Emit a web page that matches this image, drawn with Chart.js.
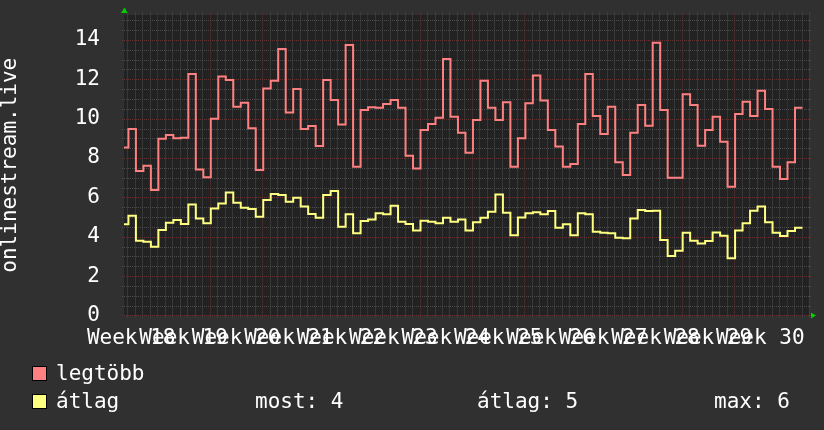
<!DOCTYPE html>
<html><head><meta charset="utf-8">
<script src="https://cdn.jsdelivr.net/npm/chart.js@4/dist/chart.umd.min.js"></script>
<style>
html,body{margin:0;padding:0;background:#303030;}
#wrap{position:relative;width:824px;height:430px;overflow:hidden;background:#303030;}
canvas{position:absolute;left:0;top:0;}
.lg{position:absolute;font-family:'DejaVu Sans Mono',monospace;font-size:21px;line-height:21px;color:#fff;white-space:pre;}
.sq{position:absolute;width:13px;height:13px;border:1px solid #000;}
</style></head><body>
<div id="wrap"><canvas id="c" width="824" height="430"></canvas></div>
<script>
// ---- data ----
const weekNumbers = [18,19,20,21,22,23,24,25,26,27,28,29,30];
const firstDay = -5; // day index of first value (day 0 = Monday of week 18)
const legtobb = [8.53,9.47,7.34,7.61,6.37,
 8.98,9.17,9.0,9.03,12.27,7.42,7.02,
 10.0,12.14,11.97,10.61,10.81,9.51,7.39,
 11.54,11.93,13.54,10.32,11.51,9.47,9.63,
 8.61,11.97,10.95,9.71,13.75,7.56,10.44,
 10.58,10.56,10.75,10.95,10.56,8.12,7.47,
 9.42,9.73,10.05,13.03,10.10,9.29,8.27,
 9.93,11.93,10.56,9.93,10.83,7.56,9.0,
 10.78,12.19,10.92,9.42,8.58,7.56,7.69,
 9.73,12.27,10.14,9.22,10.61,7.78,7.14,
 9.29,10.69,9.64,13.86,10.44,7.0,7.0,
 11.24,10.69,8.63,9.42,10.10,8.83,6.54,
 10.24,10.86,10.14,11.42,10.49,7.56,6.93,
 7.78,10.56];
const atlag = [4.63,5.07,3.80,3.75,3.49,
 4.34,4.71,4.85,4.64,5.64,4.92,4.68,
 5.44,5.69,6.25,5.73,5.47,5.41,5.02,
 5.86,6.17,6.12,5.78,5.98,5.53,5.15,
 4.97,6.12,6.32,4.51,5.14,4.17,4.80,
 4.88,5.19,5.14,5.58,4.76,4.64,4.31,
 4.81,4.76,4.68,4.97,4.76,4.88,4.31,
 4.73,4.97,5.27,6.15,5.22,4.08,4.98,
 5.19,5.24,5.14,5.31,4.46,4.63,4.08,
 5.19,5.14,4.25,4.20,4.17,3.95,3.92,
 4.93,5.36,5.31,5.32,3.83,3.02,3.29,
 4.20,3.80,3.66,3.78,4.22,4.05,2.90,
 4.31,4.68,5.32,5.53,4.73,4.20,4.03,
 4.29,4.46];
const yTicks = [0,2,4,6,8,10,12,14];
const seriesNames = ['legtöbb','átlag'];
const statNames = ['most','átlag','max'];
const statValues = [4,5,6];
const axisTitle = 'onlinestream.live';

// ---- styling ----
const RED = '#ff8080', YEL = '#ffff80';
const PLOT_BG = '#222222', MINOR = '#4c4c4c', MAJOR = '#663232', ARROW = '#00d000';
const FONT = "'DejaVu Sans Mono', monospace";
const stepShift = 0.13;

function toPoints(arr){
  // value i spans day (firstDay+i) .. (firstDay+i+1); stepped 'before' draws
  // each segment at the previous point's value
  const pts = arr.map((v,i)=>({x: firstDay + i + stepShift, y: v}));
  pts.push({x: firstDay + arr.length + stepShift, y: arr[arr.length-1]});
  return pts;
}

const rrdPlugin = {
  id: 'rrd',
  beforeDraw(chart){
    const {ctx, chartArea:a} = chart;
    ctx.save();
    ctx.fillStyle = PLOT_BG;
    ctx.fillRect(a.left, a.top, a.right-a.left, a.bottom-a.top);
    ctx.restore();
  },
  beforeDatasetsDraw(chart){
    const {ctx, chartArea:a, scales:{x,y}} = chart;
    ctx.save();
    ctx.lineWidth = 1;
    ctx.setLineDash([1,1]);
    const draw = (major)=>{
      ctx.strokeStyle = major ? MAJOR : MINOR;
      ctx.beginPath();
      for (let v = 0; v <= y.max + 1e-9; v += 0.5){
        const isMajor = Math.abs(v % 2) < 1e-9;
        if (isMajor !== major) continue;
        const py = Math.round(y.getPixelForValue(v)) + 0.5;
        ctx.moveTo(a.left-2, py); ctx.lineTo(a.right+2, py);
      }
      for (let d = Math.ceil(x.min); d <= x.max; d++){
        const isMajor = (((d % 7) + 7) % 7) === 0;
        if (isMajor !== major) continue;
        const px = Math.round(x.getPixelForValue(d)) + 0.5;
        ctx.moveTo(px, a.top-2.5); ctx.lineTo(px, a.bottom+3);
      }
      ctx.stroke();
    };
    draw(false); draw(true);
    ctx.restore();
  },
  afterDraw(chart){
    const {ctx, chartArea:a} = chart;
    ctx.save();
    ctx.fillStyle = ARROW;
    ctx.beginPath();
    ctx.moveTo(a.left-3, a.top-2); ctx.lineTo(a.left+3.5, a.top-2); ctx.lineTo(a.left+0.5, a.top-7.5);
    ctx.closePath(); ctx.fill();
    ctx.beginPath();
    ctx.moveTo(a.right+2, a.bottom-3); ctx.lineTo(a.right+2, a.bottom+3); ctx.lineTo(a.right+7, a.bottom);
    ctx.closePath(); ctx.fill();
    ctx.restore();
  }
};

new Chart(document.getElementById('c'), {
  type: 'line',
  data: {
    datasets: [
      {label: seriesNames[0], data: toPoints(legtobb), borderColor: RED, borderWidth: 2, pointRadius: 0, stepped: 'before', fill: false, clip: {left:0, top:3, right:3, bottom:3}},
      {label: seriesNames[1], data: toPoints(atlag), borderColor: YEL, borderWidth: 2, pointRadius: 0, stepped: 'before', fill: false, clip: {left:0, top:3, right:3, bottom:3}}
    ]
  },
  options: {
    responsive: false,
    devicePixelRatio: 1,
    animation: false,
    events: [],
    layout: {padding: {left: 0, top: 15, right: 15, bottom: 84.6}},
    plugins: {legend: {display: false}, tooltip: {enabled: false}, title: {display: false}},
    scales: {
      x: {
        type: 'linear', min: -4.46, max: 87.0,
        grid: {display: false}, border: {display: false},
        afterBuildTicks: (s)=>{ s.ticks = weekNumbers.map((w,i)=>({value: -3.5 + 7*i})); },
        afterFit: (s)=>{ s.height = 30; s.paddingLeft = 0; s.paddingRight = 0; s.paddingTop = 0; s.paddingBottom = 0; },
        ticks: {autoSkip: false, maxRotation: 0, minRotation: 0, padding: 2.5, color: '#ffffff',
          font: {family: FONT, size: 21, lineHeight: 1.2},
          callback: (v, i)=> 'Week ' + weekNumbers[i]}
      },
      y: {
        type: 'linear', min: 0, max: 15.27,
        grid: {display: false}, border: {display: false},
        afterBuildTicks: (s)=>{ s.ticks = yTicks.map(v=>({value: v})); },
        afterFit: (s)=>{ s.width = 124; s.paddingTop = 0; s.paddingBottom = 0; s.paddingLeft = 0; s.paddingRight = 0; },
        ticks: {padding: 16, color: '#ffffff', font: {family: FONT, size: 21}, callback: (v)=> String(v)},
        title: {display: true, text: axisTitle, color: '#ffffff', font: {family: FONT, size: 21, lineHeight: 1}, padding: {top: 0.5, bottom: 0}}
      }
    }
  },
  plugins: [rrdPlugin]
});

// ---- HTML legend ----
const wrap = document.getElementById('wrap');
function add(cls, style, text){
  const d = document.createElement('div');
  d.className = cls; d.setAttribute('style', style);
  if (text !== undefined) d.textContent = text;
  wrap.appendChild(d);
}
const rowTop = [363.2, 391.2];
const sqTop = [366, 394];
[RED, YEL].forEach((c,i)=>{
  add('sq', `left:32px;top:${sqTop[i]}px;background:${c}`);
  add('lg', `left:56px;top:${rowTop[i]}px`, seriesNames[i]);
});
const statLeft = [255, 477, 714];
statNames.forEach((n,i)=> add('lg', `left:${statLeft[i]}px;top:${rowTop[1]}px`, n + ': ' + statValues[i]));
</script>
</body></html>
